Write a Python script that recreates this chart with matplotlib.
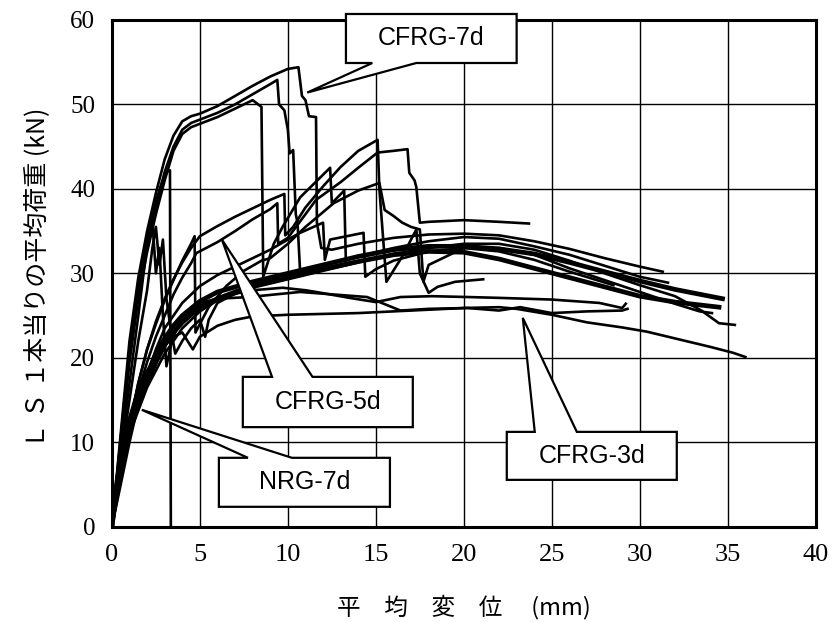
import matplotlib
matplotlib.use('Agg')
import matplotlib.pyplot as plt
import matplotlib.transforms as mtransforms
from matplotlib.patches import Polygon
from matplotlib import font_manager

# average displacement (mm) vs average load per LS (kN)

# CFRG-7d
c7a_x = [0, 0.5, 1, 1.5, 2, 2.5, 3, 3.5, 4, 4.5, 5, 6, 7, 8, 9, 10, 10.6, 10.8, 11.0, 11.2, 11.6, 11.65,
         11.9, 12.5, 14, 16, 18, 20, 22, 24, 26, 28, 30, 31.3]
c7a_y = [0, 11, 22, 29.5, 35, 39.5, 43.5, 46.3, 48, 48.6, 48.9, 49.8, 51, 52.2, 53.3, 54.2, 54.4, 51, 50.5, 48.6,
         48.5, 36, 33, 32.8, 33.5, 34.2, 34.6, 34.7, 34.5, 33.8, 32.9, 31.8, 30.8, 30.2]
c7b_x = [0, 0.5, 1, 1.5, 2, 2.5, 3, 3.5, 4, 4.5, 5, 6, 7, 8, 9, 9.4, 9.5, 9.8, 10.0, 10.1, 10.3, 10.45, 10.55,
         10.7, 11.5, 12, 14, 16, 18, 20, 22, 24, 26, 28, 30, 31.6]
c7b_y = [0, 10, 20.5, 28, 33.5, 38, 42, 45, 47, 47.8, 48.2, 49, 50, 51.2, 52.4, 52.9, 50, 49.3, 47, 44.2, 44.6,
         37, 36, 30, 30.6, 31, 32, 33, 33.8, 34.3, 34.1, 33.2, 32.2, 30.9, 29.6, 28.9]
c7c_x = [0, 0.5, 1, 1.5, 2, 2.5, 3, 3.5, 4, 4.5, 5, 6, 7, 8, 8.5, 8.6, 9.2, 9.7, 10.7, 12.4, 12.5, 13.2, 13.3]
c7c_y = [0, 9.5, 19.5, 27, 32.5, 37, 41, 44.5, 46.5, 47.3, 47.7, 48.5, 49.5, 50.5, 49.7, 29.6, 33.5, 35.5,
         39, 42.5, 38.3, 39.8, 31]
c7d_x = [0, 0.5, 1, 1.5, 2, 2.5, 2.8, 3.1, 3.3, 3.35]
c7d_y = [0, 10.5, 21, 28.5, 34, 38.5, 40.5, 42, 42.2, 0]

# CFRG-5d
c5a_x = [0, 0.5, 1, 1.5, 2, 2.5, 3, 3.5, 4, 4.5, 5, 6, 7, 8, 9, 9.8, 9.85, 10.3, 11, 12, 13, 14, 15.1,
         15.2, 15.6, 16.5, 17.3, 17.5, 18.0, 18.5, 19.5, 21.1]
c5a_y = [0, 6, 12, 17, 21, 24.3, 27, 29.3, 31.3, 33, 34.4, 35.6, 36.7, 37.7, 38.7, 39.4, 34.5, 35.5, 37.8,
         40.3, 42.6, 44.5, 45.8, 40, 29, 32, 35.2, 30, 27.7, 28.4, 29.0, 29.3]
c5b_x = [0, 0.5, 1, 1.5, 2, 2.5, 3, 3.5, 4, 4.5, 4.8, 6, 7, 8, 9, 9.4, 9.45, 10, 11, 11.6, 13, 14, 15.1, 16,
         16.8, 16.9, 17.2, 17.3, 17.5, 18, 20, 22, 23.7]
c5b_y = [0, 5.5, 11, 16, 19.5, 22.5, 25, 27.5, 29.5, 31.2, 32.4, 33.7, 35, 36.4, 37.6, 38.3, 33.5, 34.2, 37,
         38.7, 40.8, 42.5, 44.3, 44.5, 44.7, 41.9, 41, 40.2, 36, 36.1, 36.3, 36.1, 35.9]
c5c_x = [0, 0.5, 1, 1.5, 2, 2.5, 3, 3.5, 4, 4.5, 4.7, 4.75, 5.5, 6.5, 7.5, 8.5, 9, 10, 11, 12.6, 14, 15.2,
         15.5, 16, 16.5, 17, 17.5, 17.7, 18, 20, 22, 24, 26, 28, 30, 32, 33.4, 34.1]
c5c_y = [0, 6, 12, 17, 21, 24, 26.8, 29.2, 31.5, 33.5, 34.4, 23, 26, 28.5, 30.3, 31.5, 31.8, 33.5, 35.5,
         38.3, 39.8, 40.7, 37.5, 36.8, 36, 35.5, 35.2, 29, 31, 33, 33, 32.2, 30.6, 29.2, 27.8, 26.4, 25.5, 25.3]
c5d_x = [0, 0.5, 1, 1.5, 2, 2.5, 3, 4, 5, 6, 7, 8, 9, 10, 10.7, 12, 12.1, 12.4, 14.3, 14.4, 15, 16, 18, 20,
         22, 24, 26, 28.5]
c5d_y = [0, 5, 10, 14.5, 18, 21, 23.5, 26.5, 28.5, 29.8, 30.8, 31.8, 32.8, 34, 34.8, 36, 31.6, 34, 34.8,
         29.6, 30.5, 31.5, 32.6, 33, 32.6, 31.6, 30.2, 28.6]

# NRG-7d
n1_x = [0, 0.3, 0.7, 1, 1.5, 2, 2.5, 3, 3.5, 4, 5, 6, 7, 8, 10, 12, 14, 16, 18, 20, 22, 24, 26, 28, 30,
        32, 34.5]
n1_y = [0, 5, 9, 11.5, 14.5, 17, 19.5, 21.5, 23, 24.2, 26, 27, 27.8, 28.5, 29.5, 30.5, 31.4, 32.2, 32.6,
        32.5, 31.7, 30.6, 29.5, 28.4, 27.3, 26.6, 26.0]
n2_x = [0, 0.3, 0.7, 1, 1.5, 2, 2.5, 3, 3.5, 4, 5, 6, 7, 8, 10, 12, 14, 16, 18, 20, 22, 24, 26, 28, 30,
        32, 34.7]
n2_y = [0, 5.5, 10, 12.5, 15.5, 18, 20.5, 22.3, 23.8, 25, 26.7, 27.8, 28.4, 29, 30, 31, 32, 32.8, 33.2,
        33.2, 32.9, 32.3, 31.3, 30.2, 29.1, 28.1, 27.0]
n3_x = [0, 0.5, 1, 2, 3, 4, 5, 6, 8, 10, 12, 14, 16, 18, 20, 22, 24, 26, 28, 30, 32, 33.5, 34.5, 35.4]
n3_y = [0, 7, 11, 16.5, 20.5, 23.5, 25.5, 26.8, 28.3, 29.3, 30.3, 31.3, 32.3, 33, 33.5, 33.5, 32.8, 31.5,
        30, 28.6, 27.3, 25.6, 24.1, 23.9]

# CFRG-3d
c3a_x = [0, 0.3, 0.7, 1, 1.5, 2, 2.5, 3, 3.5, 4, 4.3, 4.6, 5, 6, 7, 8, 10, 12, 14, 16, 18, 20, 22, 23, 25,
         27, 29, 30.4, 32, 34, 35.3, 36]
c3a_y = [0, 5, 10, 13, 16.5, 18.5, 20, 21.5, 22.5, 23, 22, 21, 22.5, 23.8, 24.5, 24.9, 25.1, 25.2, 25.3,
         25.5, 25.7, 25.9, 26.0, 25.8, 25.1, 24.2, 23.6, 23.1, 22.3, 21.3, 20.6, 20.1]
c3b_x = [0, 0.5, 1, 1.5, 2, 2.3, 2.5, 2.7, 2.9, 3.1, 3.3, 3.6, 4, 4.5, 5, 5.3, 5.5, 6, 7, 8, 9.7, 11, 11.6,
         13.5, 15, 16.4, 18.2, 20.2, 22, 25, 27.7, 29, 29.2]
c3b_y = [0, 8, 15, 22, 28, 33, 35.5, 31, 34, 27, 24, 20.5, 22, 23.5, 24.5, 22.5, 24.5, 26.5, 27.6, 28,
         28.3, 28, 27.8, 27.1, 26.6, 27.2, 27.3, 27.2, 27.1, 26.9, 26.5, 25.9, 26.4]
c3c_x = [0, 0.5, 1, 1.5, 1.8, 2.1, 2.3, 2.5, 2.7, 2.9, 3.1, 3.4, 3.8, 4.5, 5, 6, 7.8, 10.7, 12.6, 14.5,
         16.4, 18, 20.2, 22, 23.2, 25, 27, 29, 29.3]
c3c_y = [0, 9, 17, 25, 30, 35, 36.3, 30, 33, 25, 19, 22, 24, 25.5, 26.5, 27, 27.2, 27.8, 27.5, 27.2,
         25.6, 25.8, 25.9, 25.6, 26, 25.3, 25.5, 25.6, 25.8]

x_ticks = [0, 5, 10, 15, 20, 25, 30, 35, 40]
y_ticks = [0, 10, 20, 30, 40, 50, 60]

names = {f.name for f in font_manager.fontManager.ttflist}
box_font = 'Liberation Sans Narrow' if 'Liberation Sans Narrow' in names else 'Liberation Sans'
box_size = 22 if box_font == 'Liberation Sans Narrow' else 18
jp = ['Noto Sans CJK JP', 'DejaVu Sans']

fig = plt.figure(figsize=(8.35, 6.22), dpi=100)
ax = fig.add_axes([0.134, 0.153, 0.843, 0.815])

thin = [(c7a_x, c7a_y), (c7b_x, c7b_y), (c7c_x, c7c_y), (c7d_x, c7d_y),
        (c5a_x, c5a_y), (c5b_x, c5b_y), (c5c_x, c5c_y), (c5d_x, c5d_y),
        (n3_x, n3_y), (c3a_x, c3a_y), (c3b_x, c3b_y), (c3c_x, c3c_y)]
for xs, ys in thin:
    ax.plot(xs, ys, color='black', lw=1.9, zorder=3)
for xs, ys in [(n1_x, n1_y), (n2_x, n2_y)]:
    ax.plot(xs, ys, color='black', lw=3.4, zorder=3)

ax.set_xlim(0, 40)
ax.set_ylim(0, 60)
ax.set_xticks(x_ticks, labels=[str(v) for v in x_ticks], fontsize=19, family='Liberation Serif')
ax.set_yticks(y_ticks, labels=[str(v) for v in y_ticks], fontsize=18, family='Liberation Serif')
ax.grid(True, color='black', lw=1.0)
ax.set_axisbelow(True)
for s in ax.spines.values():
    s.set_linewidth(2.2)
ax.tick_params(length=0)
ax.tick_params(axis='x', pad=12)
ax.tick_params(axis='y', pad=12)


def callout(box, base, tip, side, text):
    L, R, B, T = box
    b1, b2 = base
    if side == 'top':
        pts = [(L, B), (R, B), (R, T), (b2, T), tip, (b1, T), (L, T)]
    else:
        pts = [(L, T), (R, T), (R, B), (b2, B), tip, (b1, B), (L, B)]
    ax.add_patch(Polygon(pts, closed=True, fc='white', ec='black', lw=1.6,
                         zorder=5, clip_on=False))
    ax.text((L + R) / 2, (B + T) / 2, text, ha='center', va='center', zorder=6,
            family=box_font, fontsize=box_size)


callout((13.3, 23.0, 54.9, 60.7), (14.8, 17.3), (11.1, 51.4), 'bottom', 'CFRG-7d')
callout((7.44, 17.1, 11.8, 17.75), (9.1, 11.4), (6.25, 34.0), 'top', 'CFRG-5d')
callout((6.08, 15.8, 2.37, 8.17), (7.73, 10.23), (1.70, 13.85), 'top', 'NRG-7d')
callout((22.44, 32.1, 5.56, 11.24), (24.03, 26.42), (23.35, 24.73), 'top', 'CFRG-3d')

xlab_tr = mtransforms.blended_transform_factory(ax.transAxes, fig.transFigure)
ax.text(0.5, 1 - 607 / 622, '平　均　変　位　 (mm)', ha='center', va='center',
        family=jp, fontsize=17, transform=xlab_tr)
fig.text(37 / 835, 1 - 278 / 622, 'Ｌ Ｓ １本当りの平均荷重 (kN)', ha='center', va='center',
         rotation=90, family=jp, fontsize=18)

fig.savefig('out.png', dpi=100)
